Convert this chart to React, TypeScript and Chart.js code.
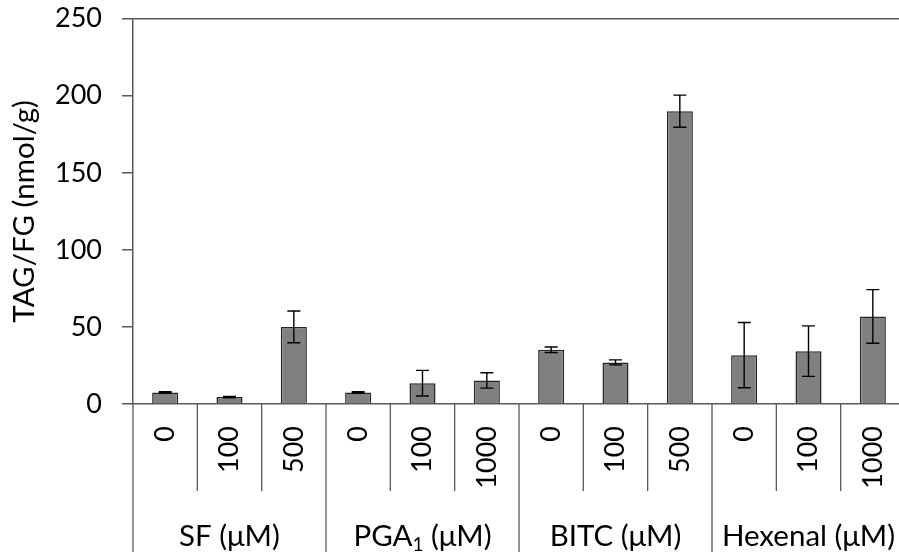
import { useEffect, useRef } from 'react';
import { Chart, registerables } from 'chart.js';

Chart.register(...registerables);

// Concentrations per bar, grouped three at a time under each treatment
const categories = ['0', '100', '500', '0', '100', '1000', '0', '100', '500', '0', '100', '1000'];
// Mean TAG/FG (nmol/g) and the half-length of each error bar
const values = [7.5, 4.5, 50, 7.5, 13.5, 15.3, 35.2, 27, 190, 31.7, 34.3, 56.8];
const errors = [0.4, 0.4, 10.3, 0.4, 8.3, 5, 1.8, 1.6, 10.4, 21.2, 16.4, 17.4];
// Treatment names shown beneath each group of three bars
const groupLabels = ['SF (μM)', 'PGA₁ (μM)', 'BITC (μM)', 'Hexenal (μM)'];
const groupSize = 3;
const yTicks = [0, 50, 100, 150, 200, 250];

const FONT = 'Lato, "Open Sans", sans-serif';
const TICK_SIZE = 27;
const LABEL_SIZE = 29.5;
const AXIS = '#595959';
const CANVAS_W = 910;
const CANVAS_H = 552;

const errorBarPlugin = {
  id: 'errorBars',
  afterDatasetsDraw(chart: any) {
    const { ctx } = chart;
    const y = chart.scales.y;
    const meta = chart.getDatasetMeta(0);
    ctx.save();
    ctx.strokeStyle = '#000';
    ctx.lineWidth = 1.4;
    meta.data.forEach((bar: any, i: number) => {
      const x = bar.x;
      const hi = y.getPixelForValue(values[i] + errors[i]);
      const lo = y.getPixelForValue(values[i] - errors[i]);
      const cap = 6.5;
      ctx.beginPath();
      ctx.moveTo(x, hi);
      ctx.lineTo(x, lo);
      ctx.moveTo(x - cap, hi);
      ctx.lineTo(x + cap, hi);
      ctx.moveTo(x - cap, lo);
      ctx.lineTo(x + cap, lo);
      ctx.stroke();
    });
    ctx.restore();
  },
};

// Draws a label, rendering "₁" as a lowered, smaller "1"
function drawLabel(ctx: CanvasRenderingContext2D, text: string, cx: number, baseline: number) {
  const parts = text.split('₁');
  const big = `${LABEL_SIZE}px ${FONT}`;
  const small = `${Math.round(LABEL_SIZE * 0.66)}px ${FONT}`;
  let total = 0;
  parts.forEach((p, k) => {
    ctx.font = big;
    total += ctx.measureText(p).width;
    if (k < parts.length - 1) {
      ctx.font = small;
      total += ctx.measureText('1').width;
    }
  });
  let x = cx - total / 2;
  ctx.textAlign = 'left';
  ctx.textBaseline = 'alphabetic';
  parts.forEach((p, k) => {
    ctx.font = big;
    ctx.fillText(p, x, baseline);
    x += ctx.measureText(p).width;
    if (k < parts.length - 1) {
      ctx.font = small;
      ctx.fillText('1', x, baseline + 5);
      x += ctx.measureText('1').width;
    }
  });
}

const groupAxisPlugin = {
  id: 'groupAxis',
  afterDraw(chart: any) {
    const { ctx, chartArea } = chart;
    const xs = chart.scales.x;
    const bottom = chartArea.bottom;
    ctx.save();
    ctx.strokeStyle = AXIS;
    ctx.lineWidth = 1.3;
    for (let i = 0; i <= categories.length; i++) {
      const px = xs.getPixelForValue(i - 0.5);
      const isGroupEdge = i % groupSize === 0;
      ctx.beginPath();
      ctx.moveTo(px, bottom);
      ctx.lineTo(px, isGroupEdge ? CANVAS_H : bottom + 87);
      ctx.stroke();
    }
    ctx.fillStyle = '#000';
    groupLabels.forEach((label, g) => {
      const cx = xs.getPixelForValue(g * groupSize + (groupSize - 1) / 2);
      drawLabel(ctx, label, cx, 546);
    });
    ctx.restore();
  },
};

export default function App() {
  const canvasRef = useRef<HTMLCanvasElement | null>(null);

  useEffect(() => {
    const canvas = canvasRef.current;
    if (!canvas) return;
    const chart = new Chart(canvas, {
      type: 'bar',
      data: {
        labels: categories,
        datasets: [
          {
            data: values,
            backgroundColor: '#808080',
            borderColor: '#262626',
            borderWidth: 1.5,
            barPercentage: 0.405,
            categoryPercentage: 1,
          },
        ],
      },
      options: {
        responsive: false,
        animation: false,
        devicePixelRatio: 1,
        layout: { padding: { top: 18.7, right: CANVAS_W - 905, bottom: 0, left: 0 } },
        plugins: {
          legend: { display: false },
          tooltip: { enabled: false },
        },
        scales: {
          x: {
            type: 'category',
            offset: true,
            grid: { drawOnChartArea: false, drawTicks: false, color: 'rgba(0,0,0,0)' },
            border: { display: true, color: AXIS, width: 1.5 },
            ticks: {
              autoSkip: false,
              minRotation: 90,
              maxRotation: 90,
              padding: 22,
              color: '#000',
              font: { family: FONT, size: TICK_SIZE },
            },
            afterFit(scale: any) {
              scale.height = CANVAS_H - 404;
              scale.paddingLeft = 0;
              scale.paddingRight = 0;
            },
          },
          y: {
            min: 0,
            max: 250,
            afterBuildTicks(scale: any) {
              scale.ticks = yTicks.map((v) => ({ value: v }));
            },
            afterFit(scale: any) {
              scale.width = 133;
              scale.paddingTop = 0;
              scale.paddingBottom = 0;
            },
            grid: {
              color: (c: any) => (c.tick && c.tick.value === 250 ? AXIS : 'rgba(0,0,0,0)'),
              lineWidth: 1.5,
              tickColor: AXIS,
              tickLength: 11,
            },
            border: { display: true, color: AXIS, width: 1.5 },
            ticks: {
              padding: 20,
              color: '#000',
              font: { family: FONT, size: TICK_SIZE },
            },
            title: {
              display: true,
              text: 'TAG/FG (nmol/g)',
              color: '#000',
              font: { family: FONT, size: LABEL_SIZE },
              padding: { top: 7, bottom: 0 },
            },
          },
        },
      },
      plugins: [errorBarPlugin, groupAxisPlugin],
    });
    return () => chart.destroy();
  }, []);

  return (
    <div style={{ position: 'fixed', left: 0, top: 0, width: 899, height: CANVAS_H, overflow: 'hidden', background: '#fff' }}>
      <canvas ref={canvasRef} width={CANVAS_W} height={CANVAS_H} style={{ width: CANVAS_W, height: CANVAS_H, display: 'block' }} />
    </div>
  );
}
